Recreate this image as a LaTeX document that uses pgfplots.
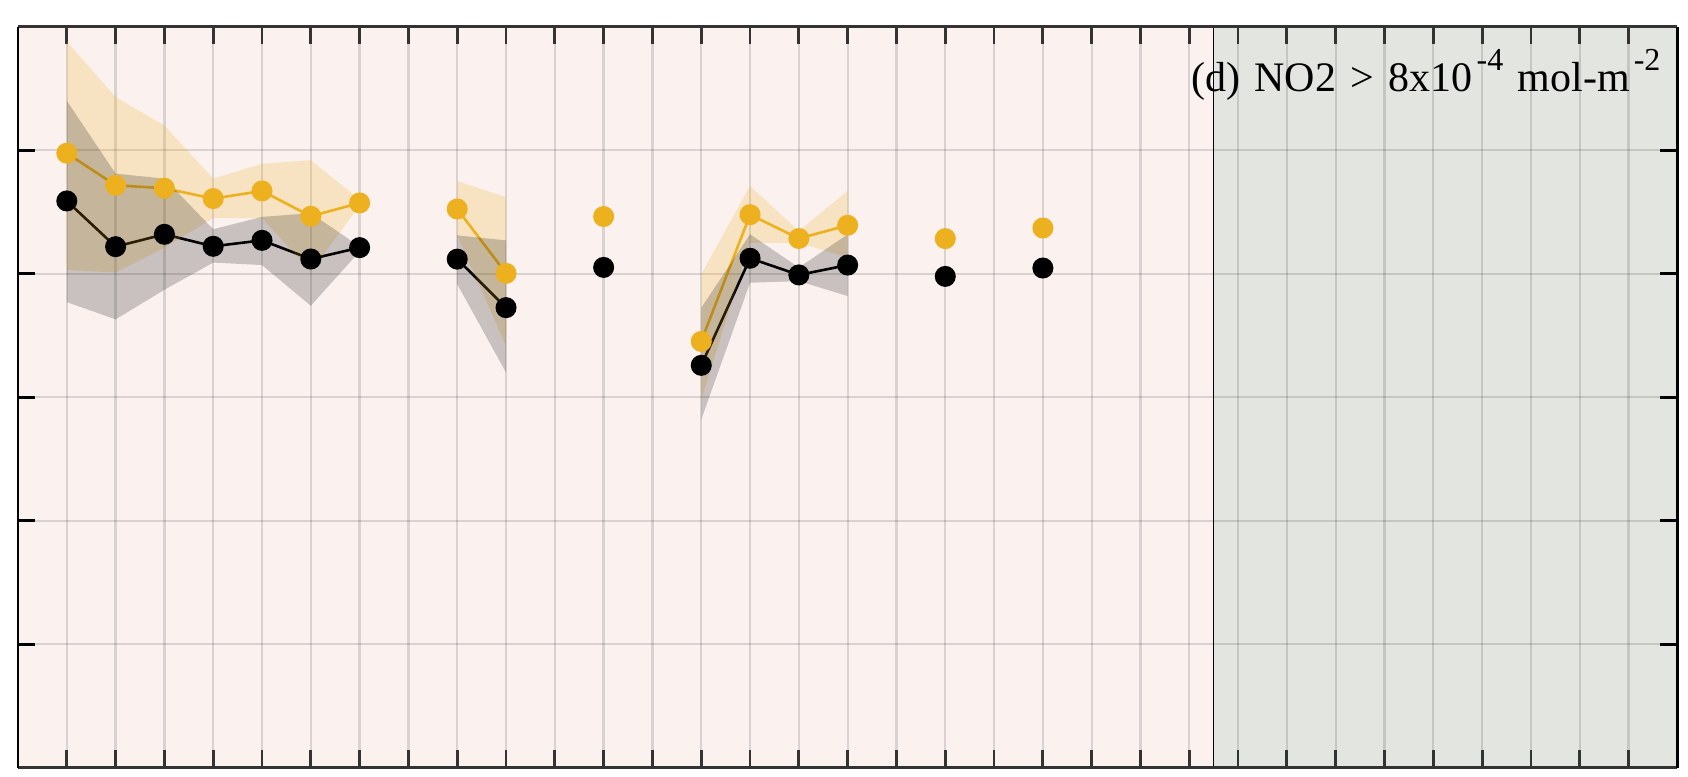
\documentclass[border=0pt]{standalone}
\usepackage{pgfplots}
\usepackage{pgfplotstable}
\pgfplotsset{compat=1.18}
\usepackage{fontspec}
\setmainfont{Liberation Serif}
\usetikzlibrary{calc}

\definecolor{bgpink}{RGB}{251,242,240}
\definecolor{bggrey}{RGB}{227,229,224}
\definecolor{morange}{RGB}{237,177,32}

% x, orange series, black series (nan = no data)
\pgfplotstableread{
x  orng   blk
1  4.976  4.589
2  4.716  4.219
3  4.692  4.319
4  4.608  4.222
5  4.670  4.270
6  4.465  4.119
7  4.573  4.211
8  nan    nan
9  4.524  4.118
10 4.003  3.725
11 nan    nan
12 4.463  4.051
13 nan    nan
14 3.452  3.258
15 4.478  4.125
16 4.285  3.990
17 4.392  4.070
18 nan    nan
19 4.284  3.978
20 nan    nan
21 4.370  4.046
}\series

\newcommand{\supx}[1]{\hspace{2pt}\raisebox{10.5pt}{\fontsize{16}{16}\selectfont #1}}

\begin{document}
\begin{tikzpicture}
\begin{axis}[
    set layers,
    scale only axis,
    width=829.65pt, height=370.5pt,
    xmin=0, xmax=34, ymin=0, ymax=6,
    xtick={1,...,33}, ytick={0,...,6},
    xticklabel=\empty, yticklabel=\empty,
    tick align=inside,
    major tick length=8.7pt,
    xtick style={draw=black!80, line width=1.4pt},
    ytick style={draw=black, line width=1.6pt},
    grid=major,
    major grid style={draw=black, draw opacity=0.13, line width=1.15pt},
    axis line style={draw=none},
    unbounded coords=jump,
    clip=false,
]

% background patches
\addplot[fill=bgpink, draw=none, on layer=axis background]
    coordinates {(0,0) (24.5,0) (24.5,6) (0,6)};
\addplot[fill=bggrey, draw=none, on layer=axis background]
    coordinates {(24.5,0) (34,0) (34,6) (24.5,6)};

% series
\addplot[morange, line width=1.3pt, mark=*, mark size=4.6pt,
    mark options={draw=none, fill=morange}] table[x=x, y=orng] {\series};
\addplot[black, line width=1.3pt, mark=*, mark size=4.6pt,
    mark options={draw=none, fill=black}] table[x=x, y=blk] {\series};

% spread bands (drawn over the markers)
\addplot[fill=morange, fill opacity=0.22, draw=none] coordinates {
    (1,5.88) (2,5.43) (3,5.20) (4,4.77) (5,4.89) (6,4.92) (7,4.60)
    (7,4.55) (6,4.02) (5,4.45) (4,4.45) (3,4.21) (2,4.01) (1,4.03)};
\addplot[fill=black, fill opacity=0.2, draw=none] coordinates {
    (1,5.40) (2,4.81) (3,4.77) (4,4.36) (5,4.46) (6,4.49) (7,4.22)
    (7,4.18) (6,3.74) (5,4.07) (4,4.09) (3,3.87) (2,3.63) (1,3.77)};
\addplot[fill=morange, fill opacity=0.22, draw=none] coordinates {
    (9,4.75) (10,4.62) (10,3.415) (9,4.31)};
\addplot[fill=black, fill opacity=0.2, draw=none] coordinates {
    (9,4.31) (10,4.27) (10,3.20) (9,3.915)};
\addplot[fill=morange, fill opacity=0.22, draw=none] coordinates {
    (14,3.995) (15,4.711) (16,4.346) (17,4.670)
    (17,4.13) (16,4.25) (15,4.25) (14,2.98)};
\addplot[fill=black, fill opacity=0.2, draw=none] coordinates {
    (14,3.724) (15,4.319) (16,4.05) (17,4.319)
    (17,3.819) (16,3.94) (15,3.927) (14,2.819)};

% divider and frame
\draw[black, line width=0.7pt] (axis cs:24.5,0) -- (axis cs:24.5,6);
\draw[black!80, line width=1.3pt] (rel axis cs:0,0) -- (rel axis cs:1,0);
\draw[black!80, line width=1.3pt] (rel axis cs:0,1) -- (rel axis cs:1,1);
\draw[black, line width=1.3pt] (rel axis cs:0,0) -- (rel axis cs:0,1);
\draw[black, line width=1.3pt] (rel axis cs:1,0) -- (rel axis cs:1,1);

\node[anchor=base west, inner sep=0pt, font=\fontsize{21}{21}\selectfont]
    at (rel axis cs:0.7068,0.9123)
    {\spaceskip=7.2pt (d) NO2 > 8x10\supx{-4} mol-m\supx{-2}};
\end{axis}
\pgfresetboundingbox
\path[use as bounding box] ($(current axis.south west)+(-9pt,-4.15pt)$)
    rectangle ($(current axis.north east)+(5.35pt,13.35pt)$);
\end{tikzpicture}
\end{document}
